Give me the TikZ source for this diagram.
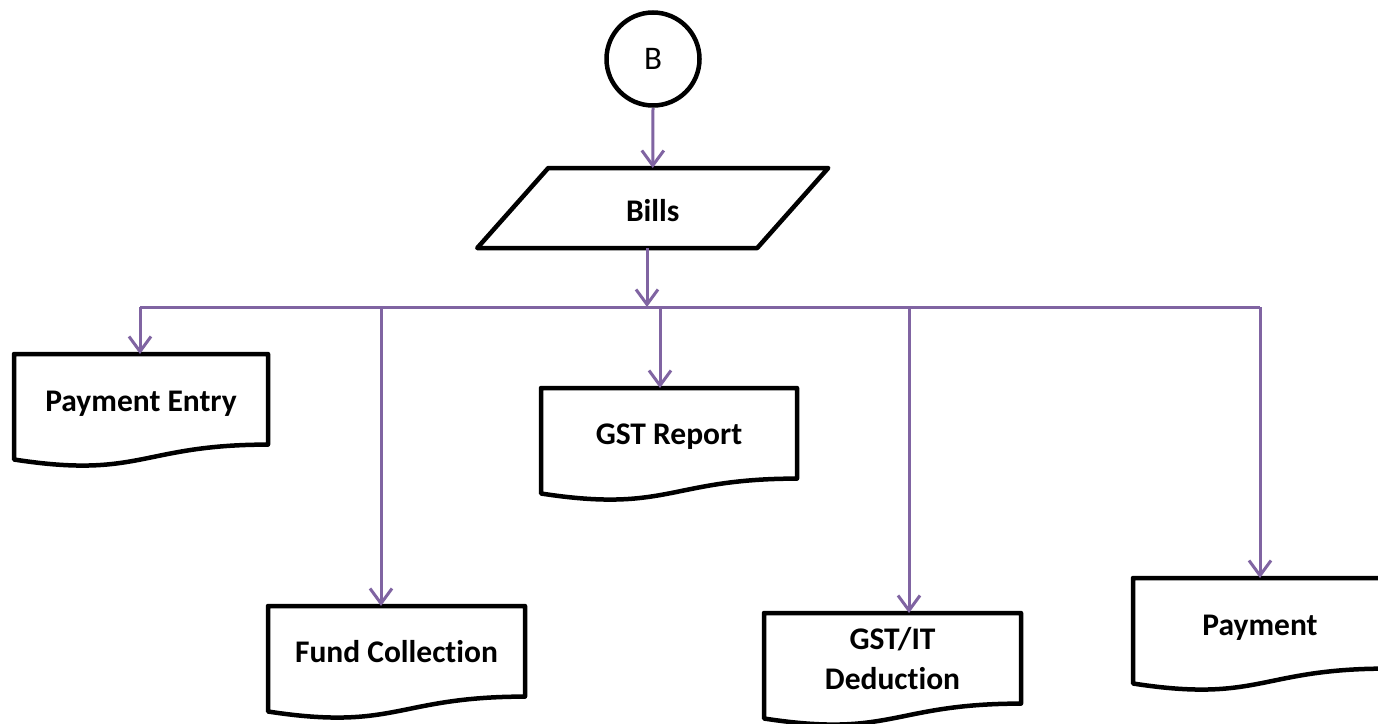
\documentclass[tikz,border=0pt]{standalone}
\usepackage{fontspec}
\setmainfont{Carlito}[RawFeature={-liga}]
\usetikzlibrary{arrows.meta,calc}
\definecolor{conpurple}{HTML}{8064A2}
\tikzset{
  docframe/.style={draw=none,inner sep=0pt,outer sep=0pt,minimum height=113pt},
  docline/.style={draw=black,line width=4.5pt,line join=round},
  doctext/.style={font=\fontsize{31.5}{40}\selectfont\bfseries,align=center,inner sep=0pt},
  conn/.style={draw=conpurple,line width=3pt},
  arr/.style={conn,-{Straight Barb[length=15pt,width=22pt,line width=3pt]}},
}
\newcommand\mydoc[6]{%
  \node[docframe,minimum width=#4pt,anchor=north west] (#1) at (#2,#3) {};
  \draw[docline] (#1.north west) -- (#1.north east) -- ($(#1.north east)+(0,90.6)$)
    .. controls ($(#1.north)+(0,90.6)$) and ($(#1.north)+(0,125.2)$) .. ($(#1.north west)+(0,105.5)$) -- cycle;
  \node[doctext] (#1-t) at ($(#1.north)+(0,#6)$) {#5};
}
\begin{document}
\begin{tikzpicture}[x=1pt,y=-1pt]
\useasboundingbox (0,0) rectangle (1378,723);
\fill[white] (0,0) rectangle (1378,723);
\clip (0,0) rectangle (1378,723);
% start connector
\node[circle,draw=black,line width=4.5pt,minimum size=93pt,inner sep=0pt,font=\fontsize{33}{38}\selectfont] (b) at (653,59) {B};
% Bills parallelogram
\node[inner sep=0pt,outer sep=0pt,minimum width=351pt,minimum height=80pt] (bills) at (652.75,208) {};
\draw[docline] ($(bills.north west)+(71,0)$) -- (bills.north east) -- ($(bills.south east)+(-71,0)$) -- (bills.south west) -- cycle;
\node[doctext] (bills-t) at ($(bills.center)+(0,3)$) {Bills};
\draw[arr] (b.south) -- (bills.north);
% documents
\mydoc{pe}{14}{354}{254}{Payment Entry}{50}
\mydoc{fc}{268}{606}{257}{Fund Collection}{46}
\mydoc{gst}{541}{388}{256}{GST Report}{49}
\mydoc{git}{764}{613}{257}{GST/IT\\Deduction}{46}
\mydoc{pay}{1133}{578}{254}{Payment}{50}
% bus
\coordinate (bus) at (647,307);
\coordinate (d1) at (140,307);
\coordinate (d2) at (381,307);
\coordinate (d3) at (660,307);
\coordinate (d4) at (909,307);
\coordinate (d5) at (1260,307);
\draw[conn] (d1) -- (d5);
\draw[arr] (bills.south -| bus) -- (bus);
\draw[arr] (d1) -- (d1 |- pe.north);
\draw[arr] (d2) -- (d2 |- fc.north);
\draw[arr] (d3) -- (d3 |- gst.north);
\draw[arr] (d4) -- (d4 |- git.north);
\draw[arr] (d5) -- (d5 |- pay.north);
\end{tikzpicture}
\end{document}
